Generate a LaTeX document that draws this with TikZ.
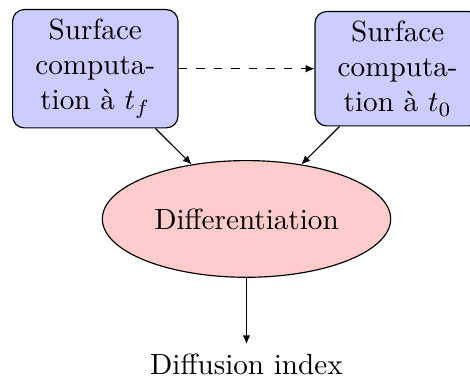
\documentclass[tikz,border=0pt]{standalone}
\usepackage{tikz}
\usetikzlibrary{arrows.meta, positioning, calc, shapes.geometric}

\begin{document}
\begin{tikzpicture}[
    block/.style={rectangle, draw, fill=blue!20, text width=5em,
                  align=center, rounded corners},
    cloud/.style={ellipse, draw, fill=red!20, minimum height=4em},
    plain/.style={inner sep=3.33pt},
    arr/.style={-{Latex[length=3pt, width=2.6pt]}}
  ]
    \useasboundingbox (-32.67pt,-108.45pt) rectangle (128.45pt,23.55pt);

    \node[block] (surfF) {Surface\\ computa-\\ tion à $t_f$};
    \node[block, right=46.6pt of surfF] (surf0) {Surface\\ computa-\\ tion à $t_0$};
    \node[cloud] (diff) at ($(surfF)!0.5!(surf0)+(0,-51.5pt)$) {Differentiation};
    \node[plain, below=22.7pt of diff] (index) {Diffusion index};

    \draw[arr, dashed] (surfF) -- (surf0);
    \draw[arr] (surfF) -- (diff);
    \draw[arr] (surf0) -- (diff);
    \draw[arr] (diff) -- (index);
\end{tikzpicture}
\end{document}
